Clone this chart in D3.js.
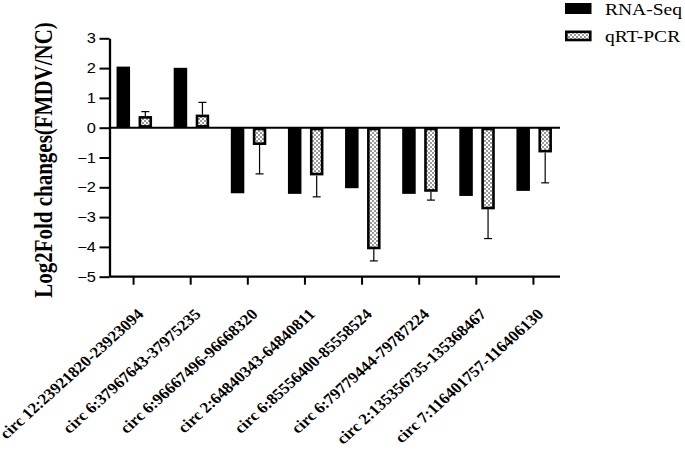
<!DOCTYPE html>
<html><head><meta charset="utf-8">
<script src="https://cdn.jsdelivr.net/npm/d3@7"></script>
<style>body{margin:0;background:#fff}svg{display:block}</style>
</head><body><svg id="c" width="685" height="452"></svg>
<script>
const categories = ["circ 12:23921820-23923094","circ 6:37967643-37975235","circ 6:96667496-96668320","circ 2:64840343-64840811","circ 6:85556400-85558524","circ 6:79779444-79787224","circ 2:135356735-135368467","circ 7:116401757-116406130"];
const series = ["RNA-Seq","qRT-PCR"];
const rnaSeq = [2.05, 2.01, -2.2, -2.22, -2.03, -2.22, -2.29, -2.12];
const qrtPcr = [0.39, 0.44, -0.58, -1.6, -4.08, -2.15, -2.74, -0.83];
const qrtErr = [0.15, 0.41, 0.97, 0.72, 0.39, 0.28, 0.98, 1.02];
const yTicks = [3,2,1,0,-1,-2,-3,-4,-5];

const SX = 1.15; // horizontal stretch of the original figure
const SXL = 1.11;
const serif = "'Liberation Serif','Times New Roman',serif";
const svg = d3.select("#c");
const defs = svg.append("defs");
const pat = defs.append("pattern").attr("id","chk").attr("patternUnits","userSpaceOnUse").attr("width",4).attr("height",4);
pat.append("rect").attr("width",4).attr("height",4).attr("fill","#fff");
pat.append("rect").attr("width",2).attr("height",2).attr("fill","#9a9a9a");
pat.append("rect").attr("x",2).attr("y",2).attr("width",2).attr("height",2).attr("fill","#9a9a9a");

const x = d3.scaleBand().domain(categories).range([105, 562]);
const x1 = d3.scaleBand().domain(series).range([-17, 18.5]).paddingInner(0.386);
const y = d3.scaleLinear().domain([-5,3]).range([276.7, 38.3]);
const axisX0 = 109.5, axisX1 = 560;
const cx = c => x(c) + x.bandwidth()/2;

svg.append("g").selectAll("rect").data(categories).join("rect")
  .attr("x", c => cx(c) + x1("RNA-Seq"))
  .attr("width", x1.bandwidth())
  .attr("y", (c,i) => y(Math.max(0, rnaSeq[i])))
  .attr("height", (c,i) => Math.abs(y(rnaSeq[i]) - y(0)))
  .attr("fill","#000");

const eb = svg.append("g").attr("stroke","#000").attr("stroke-width",1.2);
categories.forEach((c,i) => {
  const xc = cx(c) + x1("qRT-PCR") + x1.bandwidth()/2;
  const v = qrtPcr[i], e = v >= 0 ? v + qrtErr[i] : v - qrtErr[i];
  eb.append("line").attr("x1",xc).attr("x2",xc).attr("y1",y(v)).attr("y2",y(e));
  eb.append("line").attr("x1",xc-4).attr("x2",xc+4).attr("y1",y(e)).attr("y2",y(e));
});

const sw = 2.6;
svg.append("g").selectAll("rect").data(categories).join("rect")
  .attr("x", c => cx(c) + x1("qRT-PCR") + sw/2)
  .attr("width", x1.bandwidth() - sw)
  .attr("y", (c,i) => Math.min(y(0), y(qrtPcr[i])) + sw/2)
  .attr("height", (c,i) => Math.abs(y(qrtPcr[i]) - y(0)) - sw)
  .attr("fill","url(#chk)").attr("stroke","#000").attr("stroke-width",sw);

svg.append("line").attr("x1",axisX0).attr("x2",axisX1).attr("y1",y(0)).attr("y2",y(0))
  .attr("stroke","#000").attr("stroke-width",2);

const yAxis = svg.append("g").attr("transform",`translate(${axisX0},0)`)
  .call(d3.axisLeft(y).tickValues(yTicks).tickFormat(d3.format("d")).tickSize(10).tickSizeOuter(0).tickPadding(3));
yAxis.select(".domain").attr("stroke-width",2.3);
yAxis.selectAll(".tick line").attr("stroke-width",2);
yAxis.selectAll("text").attr("font-family","'Liberation Sans', Arial, sans-serif").attr("font-size",14.3).attr("fill","#000")
  .attr("x",0).attr("transform",`translate(-13.5,0) scale(${SX},1)`);

const xAxis = svg.append("g").attr("transform",`translate(0,${y(-5)})`)
  .call(d3.axisBottom(x).tickSize(8).tickSizeOuter(0).tickPadding(0));
xAxis.select(".domain").attr("d",`M${axisX0},0H${axisX1}`).attr("stroke-width",2.3);
xAxis.selectAll(".tick line").attr("stroke-width",2);
xAxis.selectAll("text")
  .attr("font-family",serif).attr("font-weight","bold")
  .attr("font-size",15.3).attr("fill","#000")
  .attr("text-anchor","end").attr("x",0).attr("y",0).attr("dy",0)
  .attr("transform",`translate(11,38.5) scale(${SXL},1) rotate(-45)`);

svg.append("text").attr("transform",`translate(52,160) scale(${SX},1) rotate(-90)`)
  .attr("text-anchor","middle").attr("font-family",serif)
  .attr("font-weight","bold").attr("font-size",21).text("Log2Fold changes(FMDV/NC)");

const lg = svg.append("g");
series.forEach((s,i) => {
  const yy = 3 + i*27.5;
  if (i === 0) lg.append("rect").attr("x",565).attr("y",yy).attr("width",26.5).attr("height",11).attr("fill","#000");
  else lg.append("rect").attr("x",566.3).attr("y",yy+1.3).attr("width",24).attr("height",8.2)
        .attr("fill","url(#chk)").attr("stroke","#000").attr("stroke-width",2.6);
  lg.append("text").attr("transform",`translate(605,${yy + 11.8}) scale(${SX},1)`)
    .attr("font-family",serif).attr("font-size",17).text(s);
});
</script></body></html>
